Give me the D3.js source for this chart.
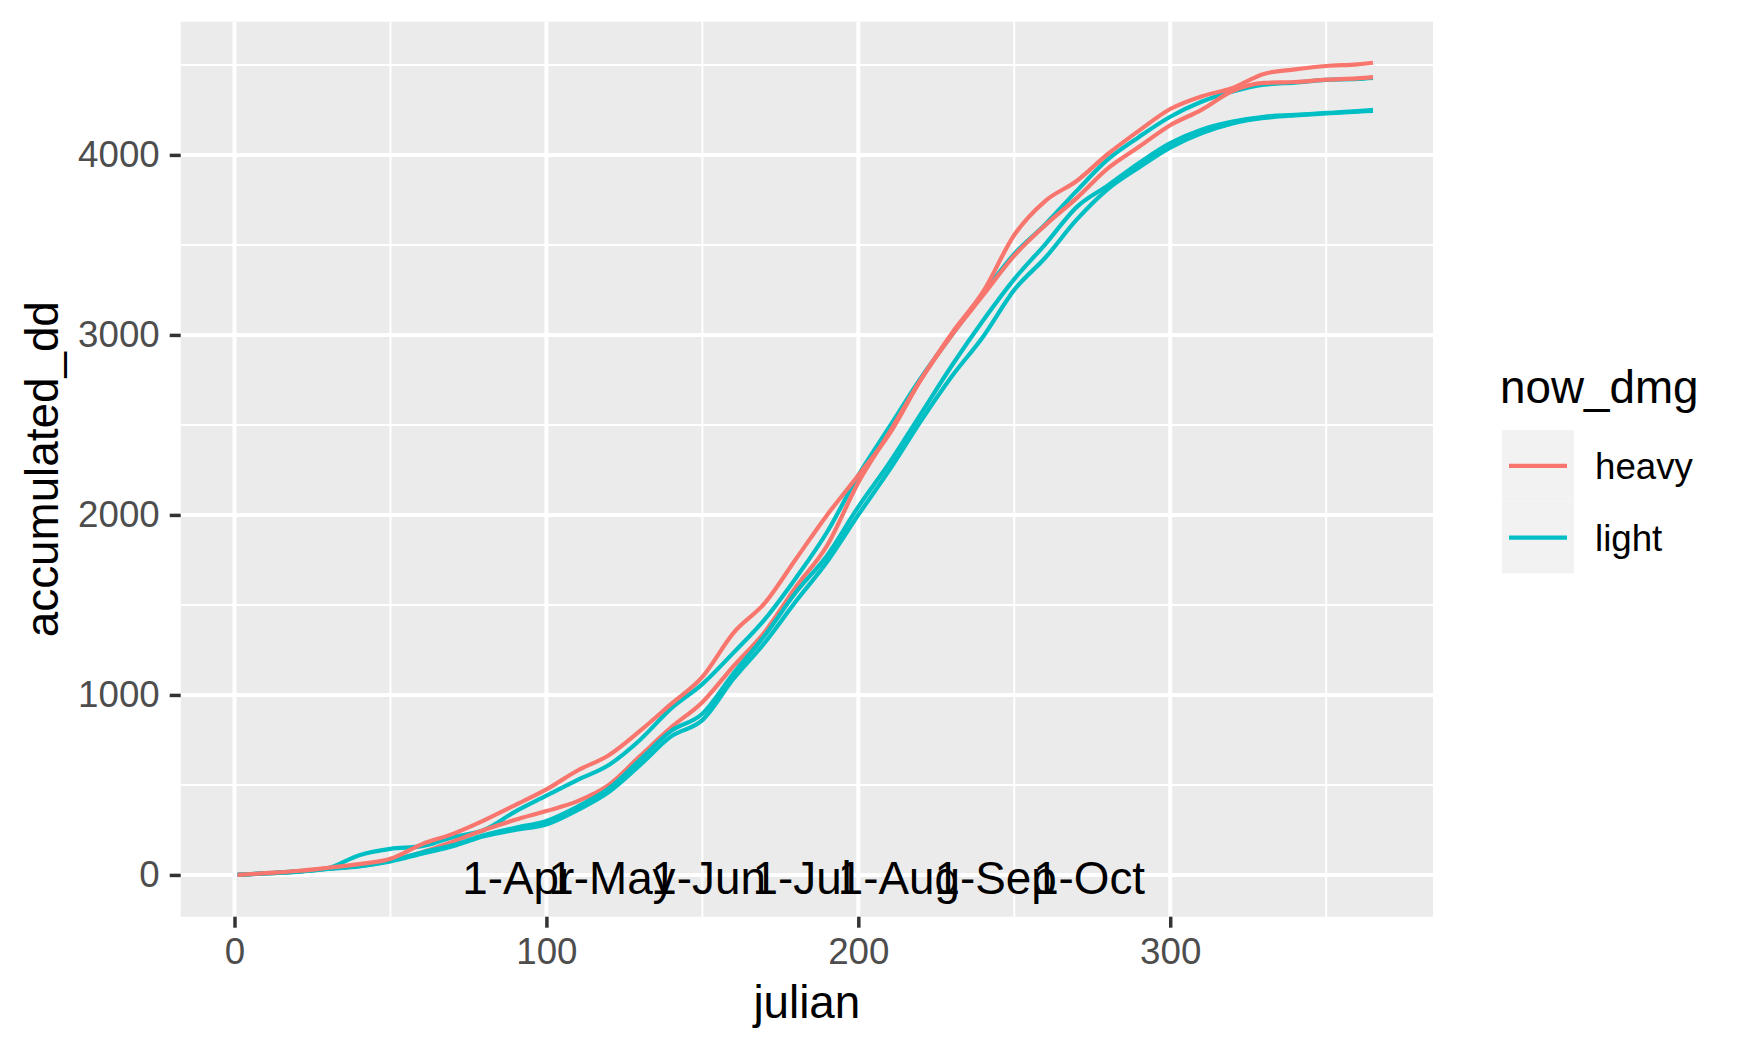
<!DOCTYPE html>
<html>
<head>
<meta charset="utf-8">
<script src="https://cdn.jsdelivr.net/npm/d3@7"></script>
<style>
body { margin: 0; background: #ffffff; }
text { font-family: "Liberation Sans", Arial, sans-serif; }
</style>
</head>
<body>
<svg width="1749" height="1050"></svg>
<script>
// julian days the curves were read at
var days = [1, 10, 20, 30, 40, 50, 60, 70, 80, 90, 100, 110, 120, 130, 140, 150, 160, 170, 180, 190,
            200, 210, 220, 230, 240, 250, 260, 270, 280, 290, 300, 310, 320, 330, 340, 350, 360, 365];

// accumulated degree days, two heavy and three light groups
var heavy1 = [0, 10, 22, 40, 60, 90, 170, 228, 303, 388, 475, 580, 665, 800, 950, 1100, 1345, 1510, 1755, 2000,
              2220, 2450, 2750, 3010, 3240, 3555, 3745, 3855, 4005, 4135, 4255, 4325, 4372, 4450, 4475, 4494, 4503, 4512];
var heavy2 = [0, 8, 18, 35, 50, 80, 125, 185, 250, 306, 355, 410, 500, 660, 820, 960, 1160, 1350, 1600, 1830,
              2180, 2460, 2750, 3000, 3220, 3440, 3610, 3760, 3925, 4045, 4165, 4250, 4355, 4400, 4405, 4418, 4425, 4432];
var light1 = [0, 10, 20, 38, 110, 145, 160, 210, 250, 352, 440, 528, 611, 750, 925, 1060, 1235, 1420, 1650, 1905,
              2220, 2490, 2760, 3000, 3230, 3450, 3615, 3800, 3975, 4100, 4212, 4295, 4352, 4390, 4402, 4417, 4422, 4428];
var light2 = [0, 9, 18, 35, 50, 78, 125, 165, 222, 262, 300, 380, 480, 640, 800, 895, 1120, 1330, 1570, 1775,
              2045, 2290, 2560, 2830, 3080, 3310, 3505, 3710, 3830, 3955, 4065, 4140, 4185, 4212, 4222, 4233, 4243, 4250];
var light3 = [0, 9, 17, 33, 48, 75, 118, 160, 215, 250, 280, 360, 460, 610, 770, 860, 1090, 1290, 1520, 1740,
              2000, 2250, 2520, 2770, 2990, 3250, 3430, 3640, 3810, 3930, 4040, 4120, 4175, 4205, 4220, 4230, 4240, 4245];

var monthDays = [91, 121, 152, 182, 213, 244, 274];
var monthLabels = ['1-Apr', '1-May', '1-Jun', '1-Jul', '1-Aug', '1-Sep', '1-Oct'];

var xTicks = [0, 100, 200, 300];
var xMinor = [50, 150, 250, 350];
var yTicks = [0, 1000, 2000, 3000, 4000];
var yMinor = [500, 1500, 2500, 3500, 4500];

var dmgLevels = ['heavy', 'light'];
var dmgColors = ['#F8766D', '#00BFC4'];

var series = [
    {dmg: 'light', vals: light1},
    {dmg: 'heavy', vals: heavy2},
    {dmg: 'light', vals: light2},
    {dmg: 'light', vals: light3},
    {dmg: 'heavy', vals: heavy1}
];

var svg = d3.select('svg');
var panel = {left: 180.7, right: 1433, top: 21.7, bottom: 916.7};

var x = d3.scaleLinear().domain([-17.25, 384.25]).range([panel.left, panel.right]);
var y = d3.scaleLinear().domain([-232, 4740]).range([panel.bottom, panel.top]);
var color = d3.scaleOrdinal().domain(dmgLevels).range(dmgColors);

// panel background + grid
svg.append('rect').attr('x', panel.left).attr('y', panel.top)
    .attr('width', panel.right - panel.left).attr('height', panel.bottom - panel.top)
    .attr('fill', '#EBEBEB');

svg.selectAll('.xminor').data(xMinor).enter().append('line')
    .attr('x1', d => x(d)).attr('x2', d => x(d)).attr('y1', panel.top).attr('y2', panel.bottom)
    .attr('stroke', '#fff').attr('stroke-width', 2);
svg.selectAll('.yminor').data(yMinor).enter().append('line')
    .attr('x1', panel.left).attr('x2', panel.right).attr('y1', d => y(d)).attr('y2', d => y(d))
    .attr('stroke', '#fff').attr('stroke-width', 2);
svg.selectAll('.xmajor').data(xTicks).enter().append('line')
    .attr('x1', d => x(d)).attr('x2', d => x(d)).attr('y1', panel.top).attr('y2', panel.bottom)
    .attr('stroke', '#fff').attr('stroke-width', 4);
svg.selectAll('.ymajor').data(yTicks).enter().append('line')
    .attr('x1', panel.left).attr('x2', panel.right).attr('y1', d => y(d)).attr('y2', d => y(d))
    .attr('stroke', '#fff').attr('stroke-width', 4);

// the curves
var line = d3.line()
    .x((d, i) => x(days[i]))
    .y(d => y(d))
    .curve(d3.curveMonotoneX);

svg.selectAll('.curve').data(series).enter().append('path')
    .attr('d', d => line(d.vals))
    .attr('fill', 'none')
    .attr('stroke', d => color(d.dmg))
    .attr('stroke-width', 4.2)
    .attr('stroke-linejoin', 'round');

// month annotations sitting on y = 0 (they overlap in the original too)
svg.selectAll('.month').data(monthDays).enter().append('text')
    .attr('x', d => x(d)).attr('y', y(0)).attr('dy', '0.42em')
    .attr('text-anchor', 'middle')
    .attr('font-size', 45.8).attr('fill', '#000')
    .text((d, i) => monthLabels[i]);

// axes
var xAxis = svg.append('g').attr('transform', 'translate(0,' + panel.bottom + ')')
    .call(d3.axisBottom(x).tickValues(xTicks).tickSize(11).tickPadding(10).tickFormat(d3.format('d')));
var yAxis = svg.append('g').attr('transform', 'translate(' + panel.left + ',0)')
    .call(d3.axisLeft(y).tickValues(yTicks).tickSize(11).tickPadding(10).tickFormat(d3.format('d')));

[xAxis, yAxis].forEach(function (ax) {
    ax.select('.domain').remove();
    ax.selectAll('.tick line').attr('stroke', '#333333').attr('stroke-width', 3.5);
    ax.selectAll('.tick text').attr('fill', '#4D4D4D').attr('font-size', 36.7)
        .attr('font-family', '"Liberation Sans", Arial, sans-serif');
});
xAxis.selectAll('.tick text').attr('dy', '0.71em').attr('y', 21);

svg.append('text').attr('x', (panel.left + panel.right) / 2).attr('y', 1018)
    .attr('text-anchor', 'middle').attr('font-size', 45.8).attr('fill', '#000')
    .text('julian');

svg.append('text')
    .attr('transform', 'translate(58,' + (panel.top + panel.bottom) / 2 + ') rotate(-90)')
    .attr('text-anchor', 'middle').attr('font-size', 45.8).attr('fill', '#000')
    .text('accumulated_dd');

// legend
var legend = svg.append('g');
legend.append('text').attr('x', 1500).attr('y', 403)
    .attr('font-size', 45.8).attr('fill', '#000').text('now_dmg');

var keys = legend.selectAll('.key').data(dmgLevels).enter().append('g')
    .attr('transform', (d, i) => 'translate(1502,' + (430 + i * 71.7) + ')');
keys.append('rect').attr('width', 72).attr('height', 71.7).attr('fill', '#F2F2F2');
keys.append('line').attr('x1', 7).attr('x2', 65).attr('y1', 35.9).attr('y2', 35.9)
    .attr('stroke', d => color(d)).attr('stroke-width', 4.2);
keys.append('text').attr('x', 93).attr('y', 35.9).attr('dy', '0.36em')
    .attr('font-size', 36.7).attr('fill', '#000').text(d => d);
</script>
</body>
</html>
